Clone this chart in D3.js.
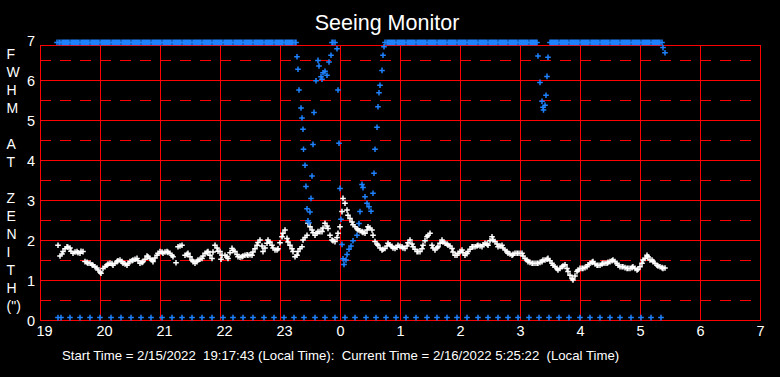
<!DOCTYPE html>
<html><head><meta charset="utf-8">
<script src="https://cdn.jsdelivr.net/npm/d3@7/dist/d3.min.js"></script>
<style>
html,body{margin:0;padding:0;background:#000;}
svg{display:block;}
text{font-family:"Liberation Sans",Arial,sans-serif;fill:#fff;}
</style></head>
<body>
<script>
// ---------------- DATA ----------------
const xTickHours = [19,20,21,22,23,24,25,26,27,28,29,30,31];
const xTickLabels = ["19","20","21","22","23","0","1","2","3","4","5","6","7"];
const yTickValues = [0,1,2,3,4,5,6,7];
const yAxisLetters = ["F","W","H","M","","A","T","","Z","E","N","I","T","H","(\")"];
const titleText = "Seeing Monitor";
const footerText = "Start Time = 2/15/2022  19:17:43 (Local Time):  Current Time = 2/16/2022 5:25:22  (Local Time)";

// Seeing at zenith (white), minutes after 19:00
const seeingMinutes = [18,20,22,23,25,27,28,30,31,33,35,37,38,40,41,43,45,47,48,50,52,53,55,57,58,60,61,63,65,67,68,70,72,73,75,77,78,80,82,83,85,87,88,90,92,93,95,97,98,100,102,103,105,107,108,110,112,113,115,117,118,120,122,123,125,127,128,130,132,133,136,138,140,142,145,147,148,150,152,153,155,157,158,160,162,163,165,167,168,170,172,173,175,177,178,180,181,182,185,187,188,190,192,193,195,197,198,200,202,203,205,207,208,210,212,213,215,217,218,220,222,223,225,227,228,230,232,233,235,237,238,240,242,243,245,247,248,250,252,253,255,257,258,260,262,263,265,267,268,270,272,273,275,277,278,280,282,283,285,287,288,290,292,293,295,297,298,300,302,303,305,307,308,310,312,313,315,317,318,320,322,323,325,327,328,330,332,333,335,337,338,340,342,343,345,347,348,350,352,353,355,357,358,360,362,363,365,367,368,370,372,373,375,377,378,380,382,383,385,387,388,390,392,393,395,397,398,400,402,403,405,407,408,410,412,413,415,417,418,420,422,423,425,427,428,430,432,433,435,437,438,440,442,443,445,447,448,450,452,453,455,457,458,460,462,463,465,467,468,470,472,473,475,477,478,480,482,483,485,487,488,490,492,493,495,497,498,500,502,503,505,507,508,510,512,513,515,517,518,520,522,523,525,527,528,530,532,533,535,537,538,540,542,543,545,547,548,550,552,553,555,557,558,560,562,563,565,567,568,570,572,573,575,577,578,580,582,583,585,587,588,590,592,593,595,597,598,600,602,603,605,607,608,610,612,613,615,617,618,620,622,623,625];
const seeingValues = [1.87,1.60,1.65,1.71,1.78,1.83,1.82,1.80,1.72,1.67,1.70,1.71,1.68,1.67,1.72,1.71,1.46,1.44,1.42,1.42,1.38,1.37,1.33,1.30,1.25,1.20,1.17,1.29,1.33,1.37,1.40,1.42,1.41,1.37,1.42,1.46,1.48,1.50,1.46,1.42,1.40,1.37,1.42,1.46,1.48,1.50,1.52,1.54,1.48,1.42,1.44,1.46,1.52,1.60,1.58,1.54,1.50,1.46,1.55,1.62,1.67,1.71,1.70,1.67,1.70,1.71,1.69,1.67,1.62,1.58,1.43,1.83,1.85,1.87,1.62,1.64,1.67,1.58,1.50,1.46,1.42,1.46,1.50,1.52,1.54,1.60,1.67,1.69,1.71,1.62,1.54,1.70,1.87,1.80,1.72,1.71,1.52,1.62,1.62,1.58,1.54,1.68,1.79,1.74,1.71,1.64,1.58,1.57,1.58,1.60,1.62,1.63,1.62,1.63,1.62,1.70,1.78,1.87,1.94,2.00,1.85,1.71,1.80,1.92,2.00,1.95,1.87,1.80,1.75,1.75,1.78,1.93,2.08,2.17,2.25,2.04,1.95,1.87,1.78,1.71,1.58,1.62,1.71,1.78,1.83,2.00,2.06,2.12,2.42,2.33,2.25,2.18,2.12,2.17,2.21,2.21,2.21,2.30,2.42,2.35,2.29,2.12,2.00,1.98,1.96,2.06,2.17,2.33,2.71,3.04,2.92,2.75,2.62,2.54,2.45,2.38,2.33,2.28,2.25,2.23,2.21,2.19,2.17,2.25,2.33,2.30,2.25,2.12,1.96,1.90,1.87,1.80,1.75,1.77,1.79,1.85,1.92,1.88,1.84,1.80,1.79,1.82,1.87,1.84,1.83,1.80,1.79,1.85,1.93,2.00,1.90,1.83,1.77,1.71,1.71,1.71,1.78,1.87,1.98,2.08,2.12,2.17,1.87,1.80,1.75,1.80,1.83,1.92,2.00,1.95,1.92,1.90,1.87,1.85,1.79,1.70,1.62,1.62,1.67,1.71,1.75,1.68,1.62,1.66,1.71,1.77,1.83,1.83,1.83,1.85,1.87,1.85,1.83,1.88,1.92,1.90,1.87,1.98,2.08,2.00,1.96,1.90,1.83,1.85,1.87,1.80,1.75,1.71,1.67,1.65,1.62,1.64,1.67,1.67,1.67,1.67,1.67,1.60,1.54,1.50,1.46,1.44,1.42,1.42,1.42,1.42,1.42,1.44,1.46,1.50,1.50,1.52,1.54,1.48,1.42,1.37,1.33,1.29,1.25,1.29,1.33,1.35,1.38,1.29,1.21,1.12,1.04,1.00,1.10,1.21,1.25,1.29,1.29,1.29,1.31,1.33,1.38,1.42,1.44,1.46,1.40,1.37,1.37,1.37,1.40,1.42,1.42,1.42,1.44,1.46,1.48,1.50,1.46,1.42,1.37,1.33,1.33,1.33,1.31,1.29,1.29,1.29,1.31,1.33,1.29,1.25,1.27,1.33,1.42,1.50,1.54,1.62,1.58,1.50,1.50,1.46,1.42,1.37,1.35,1.33,1.31,1.29,1.30];

// FWHM readings (blue) that are not saturated, minutes after 19:00
const fwhmMinutes = [257,258,259,261,262,263,263.5,265,266,267,268,269,270,271,272,273,274,276,278,279,281,282,283,285,287,289,291,292,293,295,297,298,299,300,301,302,303,304,306,307,309,311,313,317,319,320,322,323,325,327,329,331,333,334,335,337,338,339,340,342,343,344,498,500,502,503,503.5,505,506,507,508,623,625];
const fwhmValues = [6.58,6.27,5.75,5.30,5.05,4.77,4.27,3.87,3.34,2.78,2.48,2.43,2.70,3.04,3.60,4.39,5.19,5.98,6.49,6.35,6.08,6.02,6.18,6.22,6.12,6.45,6.62,6.94,6.94,6.94,6.78,5.75,4.42,3.29,2.52,1.89,1.53,1.39,1.50,1.64,1.77,1.85,1.98,2.12,2.41,2.71,3.39,3.31,3.08,2.92,2.83,2.72,3.17,3.67,4.27,4.82,5.33,5.68,5.87,6.24,6.62,6.83,6.60,5.94,5.47,5.32,5.25,5.37,5.62,6.09,6.57,6.81,6.68];
// FWHM saturated at the top of the scale: one reading per minute within these spans
const fwhmSaturatedRuns = [[17,256],[345,497],[509,622]];
const fwhmSaturatedLevel = 6.94;
// Failed (zero) FWHM readings, minutes after 19:00
const zeroMinutes = [18,21,30,40,50,60,71,81,91,101,111,122,132,142,152,162,172,183,193,203,213,224,234,244,254,264,275,285,295,305,315,326,336,346,356,366,376,387,397,407,417,427,438,448,458,468,478,489,499,509,519,529,540,550,560,570,580,591,601,611,621];
const zeroLevel = 0.06;
const frameTop = 6.87;

// ---------------- DRAW ----------------
const W = 780, H = 377;
const svg = d3.select("body").append("svg").attr("width", W).attr("height", H);
svg.append("rect").attr("width", W).attr("height", H).attr("fill", "#000");

const x = d3.scaleLinear().domain([19, 31]).range([40, 760]);
const y = d3.scaleLinear().domain([0, 7]).range([320, 40]);
const hr = m => 19 + m / 60;
const RED = "#ff0000", BLUE = "#1e82ff";

// grid
const g = svg.append("g").attr("shape-rendering", "crispEdges");
d3.range(0.5, 7, 1).forEach(v => {
  g.append("line").attr("x1", x(19)).attr("x2", x(31)).attr("y1", y(v)).attr("y2", y(v))
    .attr("stroke", RED).attr("stroke-width", 1).attr("stroke-dasharray", "11,9");
});
d3.range(1, 7).forEach(v => {
  g.append("line").attr("x1", x(19)).attr("x2", x(31)).attr("y1", y(v)).attr("y2", y(v))
    .attr("stroke", RED).attr("stroke-width", 1);
});
xTickHours.slice(1, -1).forEach(h => {
  g.append("line").attr("x1", x(h)).attr("x2", x(h)).attr("y1", y(frameTop)).attr("y2", y(0))
    .attr("stroke", RED).attr("stroke-width", 1);
});
g.append("rect").attr("x", x(19)).attr("y", y(frameTop)).attr("width", x(31) - x(19))
  .attr("height", y(0) - y(frameTop)).attr("fill", "none").attr("stroke", RED).attr("stroke-width", 1);

// axes (labels only)
const xAxis = d3.axisBottom(x).tickValues(xTickHours).tickSize(0)
  .tickFormat((d, i) => xTickLabels[i]);
const xa = svg.append("g").attr("transform", `translate(0,${y(0)})`).call(xAxis);
xa.select(".domain").remove();
xa.selectAll("text").attr("text-anchor", "start").attr("dx", -4).attr("dy", 0).attr("y", 15.5)
  .style("font-size", "14.5px").attr("fill", "#fff");

const yAxis = d3.axisLeft(y).tickValues(yTickValues).tickSize(0).tickFormat(d3.format("d"));
const ya = svg.append("g").attr("transform", `translate(35,0)`).call(yAxis);
ya.select(".domain").remove();
ya.selectAll("text").attr("x", 0).attr("dy", 5.3).attr("text-anchor", "end")
  .style("font-size", "14.5px").attr("fill", "#fff");

// vertical axis title letters
svg.append("g").selectAll("text").data(yAxisLetters).join("text")
  .attr("x", 6.5).attr("y", (d, i) => 58.5 + i * 18.0)
  .style("font-size", "14px").text(d => d);

// title and footer
svg.append("text").attr("x", 387).attr("y", 29.5).attr("text-anchor", "middle")
  .style("font-size", "21.5px").text(titleText);
svg.append("text").attr("x", 62).attr("y", 360).style("font-size", "13.2px")
  .style("white-space", "pre").text(footerText);

// markers
const cross = (px, py, r) => `M${px - r},${py}H${px + r}M${px},${py - r}V${py + r}`;
function plus(sel, pts, color) {
  sel.append("path")
    .attr("d", pts.map(p => cross(x(p[0]), y(p[1]), 2.8)).join(""))
    .attr("stroke", color).attr("stroke-width", 1.5).attr("fill", "none");
}

const seeingPts = seeingMinutes.map((m, i) => [hr(m), seeingValues[i]]);
plus(svg, seeingPts, "#ffffff");

const zeroSet = new Set(zeroMinutes);
const satPts = [];
fwhmSaturatedRuns.forEach(([a, b]) => {
  for (let m = a; m <= b; m++) if (!zeroSet.has(m)) satPts.push([hr(m), fwhmSaturatedLevel]);
});
const fwhmPts = fwhmMinutes.map((m, i) => [hr(m), fwhmValues[i]]);
const zeroPts = zeroMinutes.map(m => [hr(m), zeroLevel]);
plus(svg, satPts, BLUE);
plus(svg, fwhmPts, BLUE);
plus(svg, zeroPts, BLUE);
</script>
</body></html>
